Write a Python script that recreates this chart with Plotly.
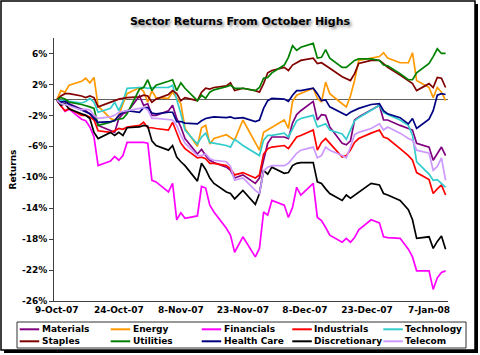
import plotly.graph_objects as go

# ---------------- data ----------------
dates = [
    "2007-10-09", "2007-10-10", "2007-10-11", "2007-10-12",
    "2007-10-15", "2007-10-16", "2007-10-17", "2007-10-18", "2007-10-19",
    "2007-10-22", "2007-10-23", "2007-10-24", "2007-10-25", "2007-10-26",
    "2007-10-29", "2007-10-30", "2007-10-31", "2007-11-01", "2007-11-02",
    "2007-11-05", "2007-11-06", "2007-11-07", "2007-11-08", "2007-11-09",
    "2007-11-12", "2007-11-13", "2007-11-14", "2007-11-15", "2007-11-16",
    "2007-11-19", "2007-11-20", "2007-11-21", "2007-11-23",
    "2007-11-26", "2007-11-27", "2007-11-28", "2007-11-29", "2007-11-30",
    "2007-12-03", "2007-12-04", "2007-12-05", "2007-12-06", "2007-12-07",
    "2007-12-10", "2007-12-11", "2007-12-12", "2007-12-13", "2007-12-14",
    "2007-12-17", "2007-12-18", "2007-12-19", "2007-12-20", "2007-12-21",
    "2007-12-24", "2007-12-26", "2007-12-27", "2007-12-28",
    "2007-12-31", "2008-01-02", "2008-01-03", "2008-01-04",
    "2008-01-07", "2008-01-08", "2008-01-09", "2008-01-10", "2008-01-11",
]

materials = [
    0, -0.3, -0.2, -0.5,
    -1.2, -1.4, -1.8, -2.1, -3.3,
    -3.9, -4.2, -2.4, -1.8, -1.6,
    0.5, -0.7, -0.5, -2.0, -2.0,
    -1.4, -0.7, -2.4, -3.5, -5.0,
    -7.0, -6.4, -7.2, -7.8, -8.1,
    -8.7, -9.1, -10.1, -9.7,
    -10.8, -10.1, -7.8, -5.6, -4.8,
    -4.8, -5.0, -3.0, -1.9, -1.4,
    -0.2, -2.6, -1.9, -2.0, -3.5,
    -5.6, -5.8, -5.3, -2.6, -2.2,
    -1.3, -0.7, -2.6, -2.6,
    -3.3, -3.7, -3.9, -5.6,
    -6.1, -7.8, -6.9, -6.1, -7.2,
]

energy = [
    0, 1.2, 1.0, 1.9,
    2.4, 2.8, 2.2, 2.9, -0.8,
    -2.4, -2.6, -2.0, -0.5, 0.8,
    1.6, 1.1, -0.3, 1.2, 0.3,
    0.2, 1.0, 0.2, -0.5, -3.7,
    -6.0, -3.6, -3.3, -5.7, -5.0,
    -4.5, -4.8, -5.2, -2.6,
    -5.4, -6.5, -4.2, -3.9, -3.5,
    -2.6, -3.7, -0.2, 0.6, 0.8,
    1.5, 0.2, -0.3, 2.3, 0.8,
    -0.5, -0.9, 0.5, 2.5, 5.1,
    5.4, 5.6, 6.1, 5.4,
    4.8, 4.8, 6.1, 2.5,
    1.6, 0.3, 1.6, 1.0, -0.1,
]

financials = [
    0, -0.8, -1.5, -1.2,
    -2.5, -2.7, -3.5, -4.8, -8.5,
    -7.9, -7.3, -7.8, -7.2, -5.5,
    -5.5, -5.5, -5.6, -10.4, -10.6,
    -11.9, -10.8, -15.5, -14.6, -15.3,
    -15.0, -11.2, -11.4, -13.6, -14.5,
    -16.6, -17.5, -19.7, -17.7,
    -20.3, -19.2, -14.5, -14.9, -13.0,
    -13.6, -15.2, -13.9, -11.3, -12.3,
    -10.8, -15.2, -15.6, -16.5, -17.5,
    -18.4, -17.9, -18.4, -17.8, -16.8,
    -15.5, -15.9, -17.7, -17.8,
    -17.9, -19.3, -20.3, -22.1,
    -22.1, -24.5, -23.0, -22.3, -22.1,
]

industrials = [
    0, -0.8, -1.4, -1.1,
    -2.0, -2.0, -2.2, -2.6, -4.0,
    -4.2, -4.0, -3.7, -3.8, -3.5,
    -3.3, -2.9, -3.6, -3.6, -3.7,
    -3.9, -2.9, -4.2, -5.6, -6.3,
    -7.5, -7.4, -7.6, -8.2, -8.2,
    -8.5, -8.9, -9.7, -9.4,
    -10.1, -9.7, -7.0, -6.3, -6.1,
    -5.9, -6.3, -5.5, -4.8, -4.6,
    -3.9, -6.5, -5.5, -5.0, -5.6,
    -7.4, -7.2, -6.5, -5.5, -5.0,
    -4.3, -3.9, -4.8, -5.0,
    -6.3, -7.2, -7.8, -9.4,
    -10.3, -12.1, -11.5, -11.0, -12.3,
]

technology = [
    0, -0.1, 0.0, -0.2,
    -0.4, -0.2, 0.2, -0.3, -1.6,
    -1.1, -0.3, -1.4, -0.2, 1.5,
    1.6, 1.6, 1.5, 1.6, 1.6,
    1.6, 1.9, 0.2, -1.8, -3.9,
    -5.7, -4.8, -4.3, -5.5, -5.6,
    -5.9, -6.1, -5.1, -5.9,
    -6.8, -7.2, -5.2, -4.6, -4.6,
    -4.3, -4.8, -3.7, -2.7, -2.4,
    -2.0, -3.5, -3.3, -3.1, -3.9,
    -4.4, -5.1, -3.9, -2.7, -2.3,
    -1.4, -0.7, -1.6, -1.9,
    -2.6, -3.3, -4.6, -8.0,
    -9.6, -10.4, -10.3, -10.8, -11.3,
]

staples = [
    0, 0.5, 0.8, 0.8,
    0.5, 0.3, 0.5, 0.3, -0.9,
    -0.3, 0.0, 0.1, 0.2, 0.3,
    0.4, 0.6, 0.5, -0.3, 0.1,
    0.7, 1.2, 0.8, -0.1, 0.3,
    -0.1, 1.0, 1.5, 1.4, 1.6,
    1.8, 2.2, 1.2, 1.5,
    1.2, 1.0, 2.1, 3.5, 3.8,
    4.2, 3.8, 4.5, 4.8, 5.1,
    5.4, 4.7, 4.8, 4.5, 4.1,
    3.0, 2.8, 2.5, 3.4, 4.7,
    5.1, 5.1, 4.7, 4.2,
    3.2, 2.5, 2.1, 1.2,
    2.1, 1.6, 2.9, 2.8, 1.6,
]

utilities = [
    0, 0.3, 0.1, -0.3,
    -0.6, -0.7, -0.9, -1.1, -3.3,
    -2.9, -2.6, -2.5, -2.4, -1.8,
    1.4, 1.6, 2.6, 1.2, 1.9,
    2.4, 2.6, 1.2, 2.2, 1.5,
    -0.1, 0.6, 0.2, 1.0, 1.3,
    1.7, 1.9, 1.5, 1.5,
    1.2, 1.6, 2.8, 2.9, 3.5,
    4.5, 5.5, 7.0, 6.4, 6.8,
    7.3, 5.4, 5.5, 6.5, 5.4,
    4.2, 4.2, 4.6, 5.1, 5.3,
    5.3, 5.1, 4.5, 4.4,
    3.4, 2.6, 2.6, 3.5,
    4.7, 5.6, 6.6, 6.0, 6.0,
]

health_care = [
    0, -0.3, -0.2, -0.6,
    -1.3, -1.6, -1.8, -2.4, -2.9,
    -2.8, -2.7, -2.0, -1.6, -1.4,
    -1.6, -1.0, -1.0, -1.7, -1.8,
    -1.6, -1.6, -2.8, -2.8, -3.0,
    -3.1, -2.7, -2.4, -2.3, -2.2,
    -2.3, -2.2, -2.4, -2.3,
    -2.8, -2.6, -1.1, -0.1, 0.2,
    0.1, -0.2, 0.6, 1.2, 1.2,
    1.5, 0.8, -0.1, 0.0, -0.9,
    -1.8, -2.0, -1.6, -1.3, -1.1,
    -0.6, -0.5, -1.4, -1.8,
    -2.3, -3.1, -2.4, -3.7,
    -2.5, -1.4, 0.6, 0.8, 0.7,
]

discretionary = [
    0, -0.7, -0.5, -1.2,
    -1.8, -2.0, -2.4, -4.2, -5.0,
    -4.2, -4.6, -4.2, -4.6, -3.6,
    -3.5, -3.3, -3.4, -5.3, -5.9,
    -6.5, -5.9, -7.4, -8.0, -8.5,
    -10.5, -8.2, -9.0, -10.1, -10.8,
    -11.9, -12.1, -12.8, -11.7,
    -13.5, -12.1, -9.1, -9.6, -8.7,
    -9.5, -9.4, -8.5, -8.2, -8.1,
    -8.1, -10.6, -10.8, -11.5, -12.1,
    -13.0, -12.3, -12.7, -12.3, -11.9,
    -10.8, -11.0, -12.1, -12.3,
    -13.0, -14.2, -15.5, -17.9,
    -17.7, -19.2, -18.3, -17.6, -19.3,
]

telecom = [
    0, -0.5, -0.6, -0.8,
    -1.3, -1.2, -1.3, -2.0, -2.4,
    -2.2, -2.0, -1.6, -1.5, -1.4,
    -1.1, -1.0, -1.3, -2.4, -2.4,
    -2.6, -2.6, -3.3, -4.6, -5.6,
    -7.2, -7.2, -7.0, -7.6, -7.8,
    -8.0, -8.6, -10.4, -10.1,
    -11.7, -12.1, -9.2, -8.7, -8.5,
    -8.5, -8.2, -7.5, -6.9, -6.5,
    -6.1, -7.5, -7.2, -6.1, -6.5,
    -7.2, -7.5, -6.1, -4.5, -4.2,
    -3.7, -3.1, -3.9, -3.5,
    -4.3, -5.0, -5.2, -6.5,
    -6.9, -9.1, -8.6, -7.5, -10.4,
]

series_names = ["Materials", "Energy", "Financials", "Industrials", "Technology",
                "Staples", "Utilities", "Health Care", "Discretionary", "Telecom"]
series_values = [materials, energy, financials, industrials, technology,
                 staples, utilities, health_care, discretionary, telecom]
series_colors = ["#800080", "#FF9900", "#FF00FF", "#FF0000", "#33CCCC",
                 "#800000", "#008000", "#000080", "#000000", "#CC99FF"]

x_tick_dates = ["2007-10-09", "2007-10-24", "2007-11-08", "2007-11-23",
                "2007-12-08", "2007-12-23", "2008-01-07"]
x_tick_labels = ["9-Oct-07", "24-Oct-07", "8-Nov-07", "23-Nov-07",
                 "8-Dec-07", "23-Dec-07", "7-Jan-08"]
y_tick_values = [6, 2, -2, -6, -10, -14, -18, -22, -26]
y_tick_labels = ["6%", "2%", "-2%", "-6%", "-10%", "-14%", "-18%", "-22%", "-26%"]

title_text = "Sector Returns From October Highs"
y_title = "Returns"

# ---------------- figure ----------------
FONT = "Verdana, DejaVu Sans, sans-serif"
W, H = 480, 355
L, R, T, B = 54, 448, 38, 301


def px(x):
    return (x - L) / (R - L)


def py(y):
    return (B - y) / (B - T)


fig = go.Figure()
for name, vals, col in zip(series_names, series_values, series_colors):
    fig.add_trace(go.Scatter(x=dates, y=vals, mode="lines", name=name,
                             line=dict(color=col, width=1.7),
                             showlegend=False))

shapes = [
    # shadow of chart frame
    dict(type="rect", xref="paper", yref="paper", x0=px(4), x1=px(478),
         y0=py(353), y1=py(4), fillcolor="black", line=dict(width=0), layer="below"),
    # chart frame
    dict(type="rect", xref="paper", yref="paper", x0=px(1), x1=px(475),
         y0=py(350), y1=py(1), fillcolor="white",
         line=dict(color="black", width=1.5), layer="below"),
    # legend box
    dict(type="rect", xref="paper", yref="paper", x0=px(17), x1=px(466),
         y0=py(348), y1=py(322), fillcolor="white",
         line=dict(color="#303030", width=1), layer="below"),
]

annotations = []
col_text_x = [40.7, 131.7, 222.7, 313.3, 404.3]
row_y = [329.3, 341.3]
for i, (name, col) in enumerate(zip(series_names, series_colors)):
    r, c = divmod(i, 5)
    tx = col_text_x[c]
    yy = row_y[r]
    shapes.append(dict(type="line", xref="paper", yref="paper",
                       x0=px(tx - 21), x1=px(tx - 1.5), y0=py(yy), y1=py(yy),
                       line=dict(color=col, width=2), layer="above"))
    annotations.append(dict(x=px(tx - 1), y=py(yy), xref="paper", yref="paper",
                            text=name, showarrow=False, xanchor="left",
                            yanchor="middle",
                            font=dict(family=FONT, size=9, color="black",
                                      weight="bold")))

fig.update_layout(
    width=W, height=H,
    margin=dict(l=L, r=W - R, t=T, b=H - B, autoexpand=False),
    paper_bgcolor="white",
    plot_bgcolor="rgba(0,0,0,0)",
    showlegend=False,
    title=dict(text=title_text, x=0.5, xanchor="center", xref="container",
               y=1 - 21 / H, yanchor="middle", yref="container",
               font=dict(family=FONT, size=11, color="black", weight="bold",
                         shadow="2px 2px 3px #8a8a8a")),
    xaxis=dict(type="date", range=["2007-10-08 08:00", "2008-01-11 14:00"],
               tickvals=x_tick_dates, ticktext=x_tick_labels,
               showgrid=False, zeroline=False, showline=True,
               linecolor="#404040", linewidth=1, ticks="",
               tickfont=dict(family=FONT, size=9, color="black", weight="bold"),
               automargin=False),
    yaxis=dict(range=[-26, 8], tickvals=y_tick_values, ticktext=y_tick_labels,
               showgrid=False, zeroline=True, zerolinecolor="#606060",
               zerolinewidth=1, showline=True, linecolor="#404040", linewidth=1,
               ticks="outside", ticklen=4, tickcolor="#404040",
               tickfont=dict(family=FONT, size=9, color="black", weight="bold"),
               title=dict(text=y_title, standoff=3,
                          font=dict(family=FONT, size=9, color="black",
                                    weight="bold")),
               automargin=False),
    shapes=shapes,
    annotations=annotations,
)

fig.write_html("out.html",
               config={"displayModeBar": False},
               post_script="document.body.style.margin='0';"
                           "document.body.style.overflow='hidden';")
